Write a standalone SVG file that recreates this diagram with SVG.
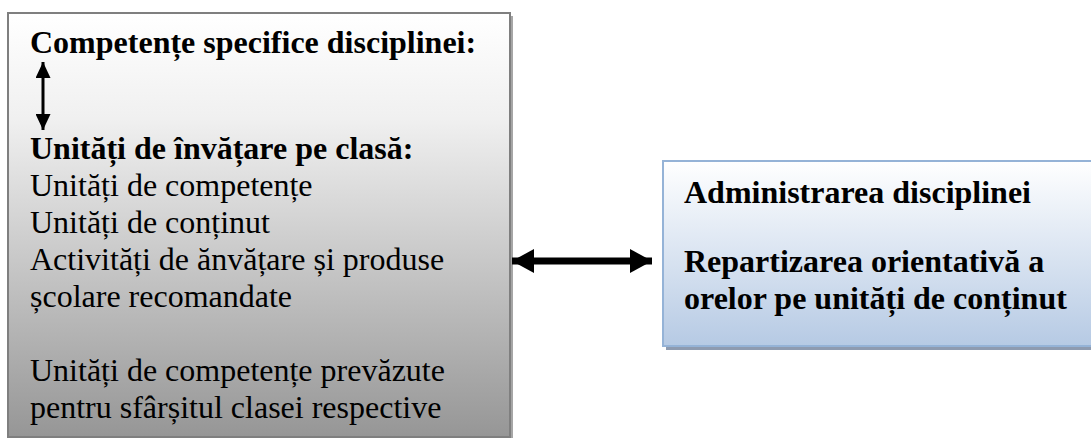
<svg xmlns="http://www.w3.org/2000/svg" width="1091" height="438" viewBox="0 0 1091 438">
<defs>
<linearGradient id="gGray" x1="0" y1="0" x2="0" y2="1">
<stop offset="0" stop-color="#ffffff"/>
<stop offset="0.25" stop-color="#f0f0f0"/>
<stop offset="1" stop-color="#969696"/>
</linearGradient>
<linearGradient id="gBlue" x1="0" y1="0" x2="0" y2="1">
<stop offset="0" stop-color="#ffffff"/>
<stop offset="1" stop-color="#b6cae4"/>
</linearGradient>
<marker id="hv" viewBox="0 0 16 15" refX="16" refY="7.5" markerWidth="16" markerHeight="15" markerUnits="userSpaceOnUse" orient="auto-start-reverse">
<path d="M0,0 L16,7.5 L0,15 Z" fill="#000"/>
</marker>
<marker id="hh" viewBox="0 0 22 24" refX="22" refY="12" markerWidth="22" markerHeight="24" markerUnits="userSpaceOnUse" orient="auto-start-reverse">
<path d="M0,0 L22,12 L0,24 Z" fill="#000"/>
</marker>
<style>
.t{font-family:"Liberation Serif","Times New Roman",serif;font-size:32px;fill:#000}
.b{font-weight:bold}
</style>
</defs>
<g id="left-box">
<rect x="11" y="16" width="502" height="424" fill="#a6a6a6"/>
<rect x="8" y="13" width="502" height="424" fill="url(#gGray)" stroke="#7f7f7f" stroke-width="2"/>
<text class="t b" x="30" y="53">Competențe specifice disciplinei:</text>
<text class="t b" x="30" y="159">Unități de învățare pe clasă:</text>
<text class="t" x="30" y="196">Unități de competențe</text>
<text class="t" x="30" y="233">Unități de conținut</text>
<text class="t" x="30" y="270">Activități de ănvățare și produse</text>
<text class="t" x="30" y="307">școlare recomandate</text>
<text class="t" x="30" y="381">Unități de competențe prevăzute</text>
<text class="t" x="30" y="418">pentru sfârșitul clasei respective</text>
</g>
<g id="right-box">
<rect x="666" y="165" width="440" height="185" fill="#8e9bb0"/>
<rect x="663" y="161" width="440" height="185" fill="url(#gBlue)" stroke="#95b3d7" stroke-width="2"/>
<text class="t b" x="684" y="203">Administrarea disciplinei</text>
<text class="t b" x="684" y="272">Repartizarea orientativă a</text>
<text class="t b" x="684" y="309">orelor pe unități de conținut</text>
</g>
<g id="connectors">
<line x1="43" y1="62" x2="43" y2="130" stroke="#000" stroke-width="3" marker-start="url(#hv)" marker-end="url(#hv)"/>
<line x1="512" y1="261" x2="652" y2="261" stroke="#000" stroke-width="7" marker-start="url(#hh)" marker-end="url(#hh)"/>
</g>
</svg>
